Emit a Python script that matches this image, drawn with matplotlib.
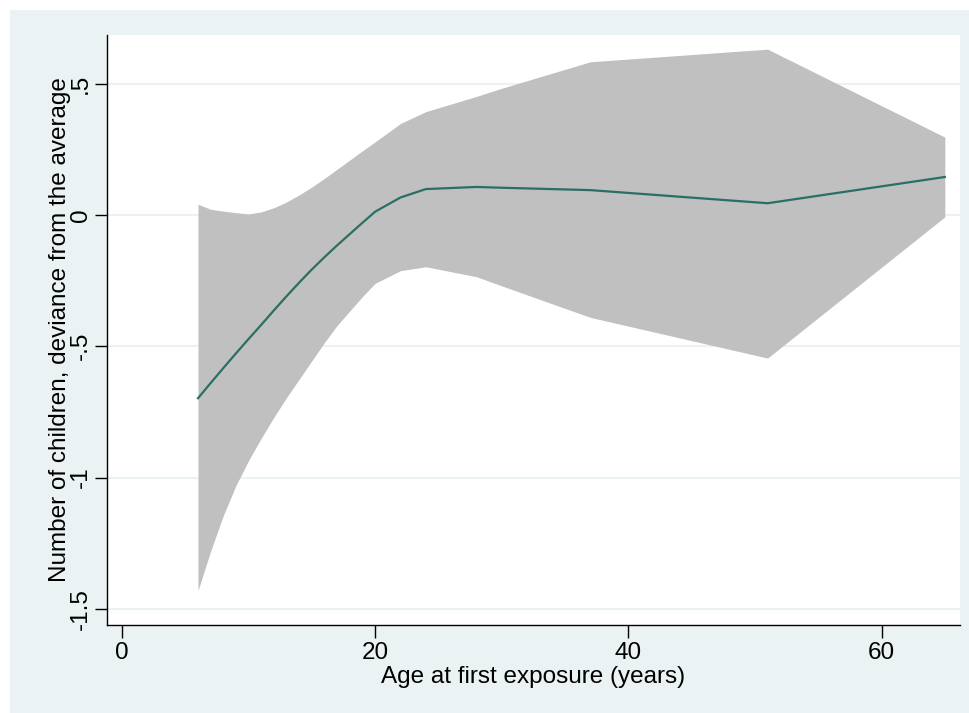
import matplotlib
matplotlib.use("Agg")
import matplotlib.pyplot as plt
from matplotlib.patches import Rectangle

# Data
age = [6, 7, 8, 9, 10, 11, 12, 13, 14, 15, 16, 17, 18, 19, 20, 22, 24, 28, 30, 37, 51, 65]
estimate = [-0.698, -0.640, -0.583, -0.527, -0.472, -0.418, -0.363, -0.309, -0.257, -0.207,
            -0.160, -0.115, -0.072, -0.029, 0.013, 0.067, 0.099, 0.107, 0.104, 0.095, 0.045, 0.145]
upper = [0.041, 0.022, 0.015, 0.009, 0.004, 0.012, 0.028, 0.050, 0.077, 0.107,
         0.140, 0.175, 0.210, 0.245, 0.279, 0.349, 0.394, 0.452, 0.483, 0.584, 0.632, 0.297]
lower = [-1.431, -1.280, -1.145, -1.030, -0.935, -0.850, -0.770, -0.695, -0.625, -0.555,
         -0.485, -0.420, -0.365, -0.310, -0.260, -0.212, -0.197, -0.235, -0.270, -0.390, -0.545, -0.007]

xticks = [0, 20, 40, 60]
yticks = [-1.5, -1, -0.5, 0, 0.5]
yticklabels = ["-1.5", "-1", "-.5", "0", ".5"]

BG = "#EAF2F3"
FS = 17.5
plt.rcParams['font.family'] = ['Liberation Sans', 'DejaVu Sans']

fig = plt.figure(figsize=(9.69, 7.13), dpi=100, facecolor="white")
bgrect = Rectangle((10 / 969, 0), 1, (713 - 10) / 713, transform=fig.transFigure,
                   facecolor=BG, edgecolor="none", zorder=-10)
fig.patches.append(bgrect)

ax = fig.add_axes([107 / 969, 1 - 625 / 713, (960 - 107) / 969, (625 - 35) / 713])
ax.set_zorder(1)
ax.set_facecolor("white")

ax.fill_between(age, lower, upper, color="#C0C0C0", linewidth=0, zorder=2)
ax.plot(age, estimate, color="#2A6F64", linewidth=1.6, zorder=3)

ax.set_xlim(-1.19, 66.2)
ax.set_ylim(-1.562, 0.686)
ax.set_xticks(xticks)
ax.set_xticklabels([str(t) for t in xticks])
ax.set_yticks(yticks)
ax.set_yticklabels(yticklabels, rotation=90, va="center")

ax.grid(axis="y", color=BG, linewidth=1.5, zorder=1)
ax.set_axisbelow(True)

for s in ["top", "right"]:
    ax.spines[s].set_visible(False)
for s in ["left", "bottom"]:
    ax.spines[s].set_color("black")
    ax.spines[s].set_linewidth(1.0)

ax.tick_params(axis="both", direction="out", length=9, width=1, color="black",
               labelsize=FS, labelcolor="black")
ax.tick_params(axis="y", pad=2)
ax.tick_params(axis="x", pad=3)

ax.set_xlabel("Age at first exposure (years)", fontsize=FS, labelpad=1.5)
ax.set_ylabel("Number of children, deviance from the average", fontsize=FS, labelpad=-1)

fig.savefig("out.png", dpi=100, facecolor="white")
